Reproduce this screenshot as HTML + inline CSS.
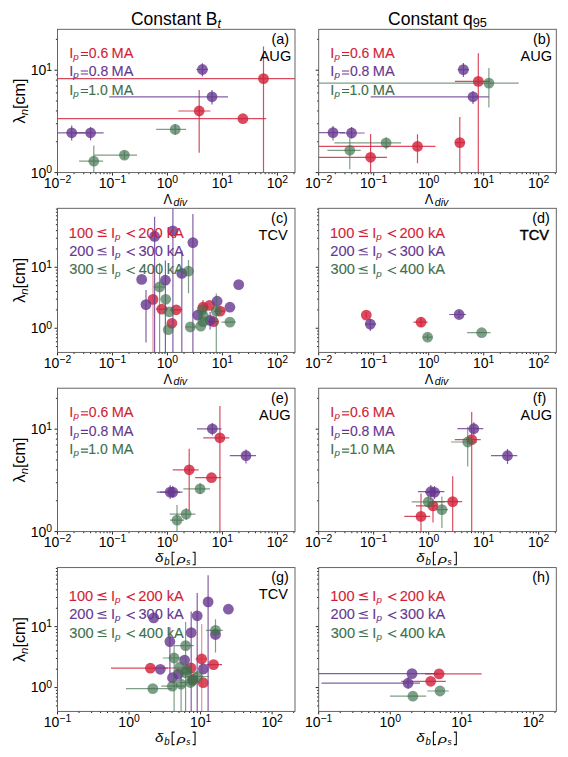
<!DOCTYPE html><html><head><meta charset="utf-8"><style>html,body{margin:0;padding:0;background:#fff;overflow:hidden}svg{display:block;font-family:"Liberation Sans",sans-serif}</style></head><body><svg width="568" height="757" viewBox="0 0 568 757">
<rect width="568" height="757" fill="#fff"/>
<clipPath id="cp00"><rect x="57.5" y="29.3" width="237.50" height="143.30"/></clipPath><g clip-path="url(#cp00)">
<circle cx="263.50" cy="78.60" r="5.4" fill="#d11e37" fill-opacity="0.8"/>
<path d="M57.50 78.60H295.00 M263.50 46.60V172.60" stroke="#d11e37" stroke-width="1.2" stroke-opacity="0.8" fill="none"/>
<circle cx="199.20" cy="111.00" r="5.4" fill="#d11e37" fill-opacity="0.8"/>
<path d="M178.30 111.00H210.40 M199.20 89.90V152.70" stroke="#d11e37" stroke-width="1.2" stroke-opacity="0.8" fill="none"/>
<circle cx="242.90" cy="118.70" r="5.4" fill="#d11e37" fill-opacity="0.8"/>
<path d="M57.50 118.70H266.20" stroke="#d11e37" stroke-width="1.2" stroke-opacity="0.8" fill="none"/>
<circle cx="71.70" cy="132.80" r="5.4" fill="#663790" fill-opacity="0.8"/>
<path d="M57.50 132.80H85.00 M71.70 125.60V140.60" stroke="#663790" stroke-width="1.2" stroke-opacity="0.8" fill="none"/>
<circle cx="90.60" cy="132.80" r="5.4" fill="#663790" fill-opacity="0.8"/>
<path d="M75.00 132.80H103.60 M90.60 127.10V140.40" stroke="#663790" stroke-width="1.2" stroke-opacity="0.8" fill="none"/>
<circle cx="202.40" cy="69.50" r="5.4" fill="#663790" fill-opacity="0.8"/>
<path d="M196.40 69.50H208.00 M202.40 63.20V76.40" stroke="#663790" stroke-width="1.2" stroke-opacity="0.8" fill="none"/>
<circle cx="212.00" cy="96.80" r="5.4" fill="#663790" fill-opacity="0.8"/>
<path d="M109.20 96.80H228.00 M212.00 90.10V104.40" stroke="#663790" stroke-width="1.2" stroke-opacity="0.8" fill="none"/>
<circle cx="93.80" cy="161.20" r="5.4" fill="#3e704c" fill-opacity="0.67"/>
<path d="M79.10 161.20H103.10 M93.80 145.60V172.60" stroke="#3e704c" stroke-width="1.2" stroke-opacity="0.67" fill="none"/>
<circle cx="124.40" cy="155.10" r="5.4" fill="#3e704c" fill-opacity="0.67"/>
<path d="M94.10 155.10H137.00 M124.40 151.00V159.00" stroke="#3e704c" stroke-width="1.2" stroke-opacity="0.67" fill="none"/>
<circle cx="175.20" cy="129.40" r="5.4" fill="#3e704c" fill-opacity="0.67"/>
<path d="M156.20 129.40H186.00 M175.20 124.00V135.00" stroke="#3e704c" stroke-width="1.2" stroke-opacity="0.67" fill="none"/>
</g>
<path d="M57.50 172.60v3.0 M74.05 172.60v1.6 M83.73 172.60v1.6 M90.60 172.60v1.6 M95.93 172.60v1.6 M100.28 172.60v1.6 M103.96 172.60v1.6 M107.15 172.60v1.6 M109.96 172.60v1.6 M112.48 172.60v3.0 M129.03 172.60v1.6 M138.71 172.60v1.6 M145.58 172.60v1.6 M150.90 172.60v1.6 M155.26 172.60v1.6 M158.94 172.60v1.6 M162.13 172.60v1.6 M164.94 172.60v1.6 M167.45 172.60v3.0 M184.00 172.60v1.6 M193.68 172.60v1.6 M200.55 172.60v1.6 M205.88 172.60v1.6 M210.23 172.60v1.6 M213.91 172.60v1.6 M217.10 172.60v1.6 M219.91 172.60v1.6 M222.43 172.60v3.0 M238.98 172.60v1.6 M248.66 172.60v1.6 M255.53 172.60v1.6 M260.86 172.60v1.6 M265.21 172.60v1.6 M268.89 172.60v1.6 M272.08 172.60v1.6 M274.89 172.60v1.6 M277.41 172.60v3.0 M293.96 172.60v1.6 M57.50 172.60h-3.0 M57.50 141.77h-1.6 M57.50 123.74h-1.6 M57.50 110.95h-1.6 M57.50 101.03h-1.6 M57.50 92.92h-1.6 M57.50 86.06h-1.6 M57.50 80.12h-1.6 M57.50 74.89h-1.6 M57.50 70.20h-3.0 M57.50 39.37h-1.6" stroke="#111" stroke-width="0.9" fill="none"/>
<rect x="57.5" y="29.3" width="237.50" height="143.30" fill="none" stroke="#555" stroke-width="0.9"/>
<text x="43.79" y="188.00" font-size="14.0">10</text>
<text x="59.36" y="183.40" font-size="10.4">−2</text>
<text x="98.76" y="188.00" font-size="14.0">10</text>
<text x="114.33" y="183.40" font-size="10.4">−1</text>
<text x="156.78" y="188.00" font-size="14.0">10</text>
<text x="172.35" y="183.40" font-size="10.4">0</text>
<text x="211.75" y="188.00" font-size="14.0">10</text>
<text x="227.32" y="183.40" font-size="10.4">1</text>
<text x="266.73" y="188.00" font-size="14.0">10</text>
<text x="282.30" y="183.40" font-size="10.4">2</text>
<text x="30.63" y="177.50" font-size="14.0">10</text>
<text x="46.21" y="172.90" font-size="10.4">0</text>
<text x="30.63" y="75.10" font-size="14.0">10</text>
<text x="46.21" y="70.50" font-size="10.4">1</text>
<clipPath id="cp01"><rect x="318.7" y="29.3" width="237.60" height="143.30"/></clipPath><g clip-path="url(#cp01)">
<circle cx="478.30" cy="81.40" r="5.4" fill="#d11e37" fill-opacity="0.8"/>
<path d="M454.90 81.40H490.00 M478.30 53.20V172.60" stroke="#d11e37" stroke-width="1.2" stroke-opacity="0.8" fill="none"/>
<circle cx="417.50" cy="146.40" r="5.4" fill="#d11e37" fill-opacity="0.8"/>
<path d="M318.70 146.40H435.50 M417.50 134.30V163.20" stroke="#d11e37" stroke-width="1.2" stroke-opacity="0.8" fill="none"/>
<circle cx="459.80" cy="142.60" r="5.4" fill="#d11e37" fill-opacity="0.8"/>
<path d="M455.00 142.60H465.00 M459.80 117.00V172.60" stroke="#d11e37" stroke-width="1.2" stroke-opacity="0.8" fill="none"/>
<circle cx="370.60" cy="157.30" r="5.4" fill="#d11e37" fill-opacity="0.8"/>
<path d="M318.70 157.30H387.00 M370.60 134.10V172.60" stroke="#d11e37" stroke-width="1.2" stroke-opacity="0.8" fill="none"/>
<circle cx="333.00" cy="132.60" r="5.4" fill="#663790" fill-opacity="0.8"/>
<path d="M318.70 132.60H345.00 M333.00 125.90V140.40" stroke="#663790" stroke-width="1.2" stroke-opacity="0.8" fill="none"/>
<circle cx="351.60" cy="133.00" r="5.4" fill="#663790" fill-opacity="0.8"/>
<path d="M340.00 133.00H364.60 M351.60 127.00V138.30" stroke="#663790" stroke-width="1.2" stroke-opacity="0.8" fill="none"/>
<circle cx="463.40" cy="69.60" r="5.4" fill="#663790" fill-opacity="0.8"/>
<path d="M457.70 69.60H469.00 M463.40 62.90V77.00" stroke="#663790" stroke-width="1.2" stroke-opacity="0.8" fill="none"/>
<circle cx="473.00" cy="96.80" r="5.4" fill="#663790" fill-opacity="0.8"/>
<path d="M370.70 96.80H488.90 M473.00 91.00V104.00" stroke="#663790" stroke-width="1.2" stroke-opacity="0.8" fill="none"/>
<circle cx="349.80" cy="150.30" r="5.4" fill="#3e704c" fill-opacity="0.67"/>
<path d="M327.40 150.30H360.80 M349.80 137.60V169.30" stroke="#3e704c" stroke-width="1.2" stroke-opacity="0.67" fill="none"/>
<circle cx="386.10" cy="142.80" r="5.4" fill="#3e704c" fill-opacity="0.67"/>
<path d="M334.40 142.80H401.10 M386.10 137.50V149.60" stroke="#3e704c" stroke-width="1.2" stroke-opacity="0.67" fill="none"/>
<circle cx="488.90" cy="83.10" r="5.4" fill="#3e704c" fill-opacity="0.67"/>
<path d="M318.70 83.10H518.70 M488.90 68.10V107.50" stroke="#3e704c" stroke-width="1.2" stroke-opacity="0.67" fill="none"/>
</g>
<path d="M318.70 172.60v3.0 M335.26 172.60v1.6 M344.94 172.60v1.6 M351.81 172.60v1.6 M357.14 172.60v1.6 M361.50 172.60v1.6 M365.18 172.60v1.6 M368.37 172.60v1.6 M371.18 172.60v1.6 M373.70 172.60v3.0 M390.26 172.60v1.6 M399.94 172.60v1.6 M406.81 172.60v1.6 M412.14 172.60v1.6 M416.50 172.60v1.6 M420.18 172.60v1.6 M423.37 172.60v1.6 M426.18 172.60v1.6 M428.70 172.60v3.0 M445.26 172.60v1.6 M454.94 172.60v1.6 M461.81 172.60v1.6 M467.14 172.60v1.6 M471.50 172.60v1.6 M475.18 172.60v1.6 M478.37 172.60v1.6 M481.18 172.60v1.6 M483.70 172.60v3.0 M500.26 172.60v1.6 M509.94 172.60v1.6 M516.81 172.60v1.6 M522.14 172.60v1.6 M526.50 172.60v1.6 M530.18 172.60v1.6 M533.37 172.60v1.6 M536.18 172.60v1.6 M538.70 172.60v3.0 M555.26 172.60v1.6 M318.70 172.60h-3.0 M318.70 141.77h-1.6 M318.70 123.74h-1.6 M318.70 110.95h-1.6 M318.70 101.03h-1.6 M318.70 92.92h-1.6 M318.70 86.06h-1.6 M318.70 80.12h-1.6 M318.70 74.89h-1.6 M318.70 70.20h-3.0 M318.70 39.37h-1.6" stroke="#111" stroke-width="0.9" fill="none"/>
<rect x="318.7" y="29.3" width="237.60" height="143.30" fill="none" stroke="#555" stroke-width="0.9"/>
<text x="304.99" y="188.00" font-size="14.0">10</text>
<text x="320.56" y="183.40" font-size="10.4">−2</text>
<text x="359.99" y="188.00" font-size="14.0">10</text>
<text x="375.56" y="183.40" font-size="10.4">−1</text>
<text x="418.02" y="188.00" font-size="14.0">10</text>
<text x="433.59" y="183.40" font-size="10.4">0</text>
<text x="473.02" y="188.00" font-size="14.0">10</text>
<text x="488.59" y="183.40" font-size="10.4">1</text>
<text x="528.02" y="188.00" font-size="14.0">10</text>
<text x="543.59" y="183.40" font-size="10.4">2</text>
<clipPath id="cp10"><rect x="57.5" y="208.3" width="237.50" height="144.10"/></clipPath><g clip-path="url(#cp10)">
<circle cx="153.00" cy="299.40" r="5.4" fill="#d11e37" fill-opacity="0.8"/>
<path d="M153.00 265.40V352.40" stroke="#d11e37" stroke-width="1.2" stroke-opacity="0.5" fill="none"/>
<circle cx="161.80" cy="309.10" r="5.4" fill="#d11e37" fill-opacity="0.8"/>
<path d="M156.00 309.10H168.00" stroke="#d11e37" stroke-width="1.2" stroke-opacity="0.8" fill="none"/>
<circle cx="176.20" cy="309.80" r="5.4" fill="#d11e37" fill-opacity="0.8"/>
<path d="M170.00 309.80H182.00" stroke="#d11e37" stroke-width="1.2" stroke-opacity="0.8" fill="none"/>
<circle cx="171.90" cy="323.30" r="5.4" fill="#d11e37" fill-opacity="0.8"/>
<circle cx="209.60" cy="305.40" r="5.4" fill="#d11e37" fill-opacity="0.8"/>
<circle cx="203.00" cy="307.20" r="5.4" fill="#d11e37" fill-opacity="0.8"/>
<path d="M203.00 300.00V312.00" stroke="#d11e37" stroke-width="1.2" stroke-opacity="0.8" fill="none"/>
<circle cx="220.20" cy="311.10" r="5.4" fill="#d11e37" fill-opacity="0.8"/>
<path d="M214.00 311.10H225.50" stroke="#d11e37" stroke-width="1.2" stroke-opacity="0.8" fill="none"/>
<circle cx="213.60" cy="321.70" r="5.4" fill="#d11e37" fill-opacity="0.8"/>
<path d="M208.00 321.70H218.90" stroke="#d11e37" stroke-width="1.2" stroke-opacity="0.8" fill="none"/>
<circle cx="154.60" cy="236.40" r="5.4" fill="#663790" fill-opacity="0.8"/>
<path d="M154.60 216.70V352.40" stroke="#663790" stroke-width="1.2" stroke-opacity="0.8" fill="none"/>
<circle cx="172.90" cy="230.90" r="5.4" fill="#663790" fill-opacity="0.8"/>
<path d="M172.90 208.30V352.40" stroke="#663790" stroke-width="1.2" stroke-opacity="0.8" fill="none"/>
<circle cx="192.90" cy="242.60" r="5.4" fill="#663790" fill-opacity="0.8"/>
<path d="M192.90 213.90V352.40" stroke="#663790" stroke-width="1.2" stroke-opacity="0.8" fill="none"/>
<circle cx="141.70" cy="279.40" r="5.4" fill="#663790" fill-opacity="0.8"/>
<circle cx="165.40" cy="280.20" r="5.4" fill="#663790" fill-opacity="0.8"/>
<path d="M165.40 260.50V352.40" stroke="#663790" stroke-width="1.2" stroke-opacity="0.8" fill="none"/>
<circle cx="181.80" cy="273.40" r="5.4" fill="#663790" fill-opacity="0.8"/>
<path d="M181.80 250.60V352.40" stroke="#663790" stroke-width="1.2" stroke-opacity="0.8" fill="none"/>
<circle cx="146.00" cy="304.60" r="5.4" fill="#663790" fill-opacity="0.8"/>
<path d="M146.00 290.00V342.40" stroke="#663790" stroke-width="1.2" stroke-opacity="0.8" fill="none"/>
<circle cx="238.70" cy="284.60" r="5.4" fill="#663790" fill-opacity="0.8"/>
<circle cx="229.90" cy="307.20" r="5.4" fill="#663790" fill-opacity="0.8"/>
<circle cx="217.10" cy="301.20" r="5.4" fill="#663790" fill-opacity="0.8"/>
<circle cx="197.80" cy="315.10" r="5.4" fill="#663790" fill-opacity="0.8"/>
<circle cx="210.10" cy="320.40" r="5.4" fill="#663790" fill-opacity="0.8"/>
<path d="M210.10 312.00V329.60" stroke="#663790" stroke-width="1.2" stroke-opacity="0.8" fill="none"/>
<circle cx="188.50" cy="271.20" r="5.4" fill="#3e704c" fill-opacity="0.67"/>
<path d="M188.50 259.90V293.30" stroke="#3e704c" stroke-width="1.2" stroke-opacity="0.67" fill="none"/>
<circle cx="159.60" cy="287.00" r="5.4" fill="#3e704c" fill-opacity="0.67"/>
<path d="M153.40 287.00H165.70 M159.60 263.00V352.40" stroke="#3e704c" stroke-width="1.2" stroke-opacity="0.67" fill="none"/>
<circle cx="165.70" cy="299.30" r="5.4" fill="#3e704c" fill-opacity="0.67"/>
<circle cx="169.20" cy="311.80" r="5.4" fill="#3e704c" fill-opacity="0.67"/>
<circle cx="168.20" cy="329.70" r="5.4" fill="#3e704c" fill-opacity="0.67"/>
<circle cx="190.30" cy="327.00" r="5.4" fill="#3e704c" fill-opacity="0.67"/>
<path d="M185.90 327.00H196.40" stroke="#3e704c" stroke-width="1.2" stroke-opacity="0.67" fill="none"/>
<circle cx="216.30" cy="311.10" r="5.4" fill="#3e704c" fill-opacity="0.67"/>
<path d="M216.30 293.50V352.40" stroke="#3e704c" stroke-width="1.2" stroke-opacity="0.67" fill="none"/>
<circle cx="202.20" cy="309.80" r="5.4" fill="#3e704c" fill-opacity="0.67"/>
<circle cx="203.50" cy="316.40" r="5.4" fill="#3e704c" fill-opacity="0.67"/>
<circle cx="203.00" cy="321.70" r="5.4" fill="#3e704c" fill-opacity="0.67"/>
<circle cx="200.80" cy="326.10" r="5.4" fill="#3e704c" fill-opacity="0.67"/>
<circle cx="229.90" cy="322.10" r="5.4" fill="#3e704c" fill-opacity="0.67"/>
<path d="M221.50 322.10H235.60" stroke="#3e704c" stroke-width="1.2" stroke-opacity="0.67" fill="none"/>
</g>
<path d="M57.50 352.40v3.0 M74.05 352.40v1.6 M83.73 352.40v1.6 M90.60 352.40v1.6 M95.93 352.40v1.6 M100.28 352.40v1.6 M103.96 352.40v1.6 M107.15 352.40v1.6 M109.96 352.40v1.6 M112.48 352.40v3.0 M129.03 352.40v1.6 M138.71 352.40v1.6 M145.58 352.40v1.6 M150.90 352.40v1.6 M155.26 352.40v1.6 M158.94 352.40v1.6 M162.13 352.40v1.6 M164.94 352.40v1.6 M167.45 352.40v3.0 M184.00 352.40v1.6 M193.68 352.40v1.6 M200.55 352.40v1.6 M205.88 352.40v1.6 M210.23 352.40v1.6 M213.91 352.40v1.6 M217.10 352.40v1.6 M219.91 352.40v1.6 M222.43 352.40v3.0 M238.98 352.40v1.6 M248.66 352.40v1.6 M255.53 352.40v1.6 M260.86 352.40v1.6 M265.21 352.40v1.6 M268.89 352.40v1.6 M272.08 352.40v1.6 M274.89 352.40v1.6 M277.41 352.40v3.0 M293.96 352.40v1.6 M57.50 346.60h-1.6 M57.50 341.77h-1.6 M57.50 337.69h-1.6 M57.50 334.16h-1.6 M57.50 331.04h-1.6 M57.50 328.25h-3.0 M57.50 309.90h-1.6 M57.50 299.17h-1.6 M57.50 291.55h-1.6 M57.50 285.65h-1.6 M57.50 280.82h-1.6 M57.50 276.74h-1.6 M57.50 273.21h-1.6 M57.50 270.09h-1.6 M57.50 267.30h-3.0 M57.50 248.95h-1.6 M57.50 238.22h-1.6 M57.50 230.60h-1.6 M57.50 224.70h-1.6 M57.50 219.87h-1.6 M57.50 215.79h-1.6 M57.50 212.26h-1.6 M57.50 209.14h-1.6" stroke="#111" stroke-width="0.9" fill="none"/>
<rect x="57.5" y="208.3" width="237.50" height="144.10" fill="none" stroke="#555" stroke-width="0.9"/>
<text x="43.79" y="367.80" font-size="14.0">10</text>
<text x="59.36" y="363.20" font-size="10.4">−2</text>
<text x="98.76" y="367.80" font-size="14.0">10</text>
<text x="114.33" y="363.20" font-size="10.4">−1</text>
<text x="156.78" y="367.80" font-size="14.0">10</text>
<text x="172.35" y="363.20" font-size="10.4">0</text>
<text x="211.75" y="367.80" font-size="14.0">10</text>
<text x="227.32" y="363.20" font-size="10.4">1</text>
<text x="266.73" y="367.80" font-size="14.0">10</text>
<text x="282.30" y="363.20" font-size="10.4">2</text>
<text x="30.63" y="333.15" font-size="14.0">10</text>
<text x="46.21" y="328.55" font-size="10.4">0</text>
<text x="30.63" y="272.20" font-size="14.0">10</text>
<text x="46.21" y="267.60" font-size="10.4">1</text>
<clipPath id="cp11"><rect x="318.7" y="208.3" width="237.60" height="144.10"/></clipPath><g clip-path="url(#cp11)">
<circle cx="366.30" cy="315.10" r="5.4" fill="#d11e37" fill-opacity="0.8"/>
<path d="M366.30 312.00V318.00" stroke="#d11e37" stroke-width="1.2" stroke-opacity="0.8" fill="none"/>
<circle cx="421.00" cy="322.20" r="5.4" fill="#d11e37" fill-opacity="0.8"/>
<path d="M413.40 322.20H427.60 M421.00 317.40V326.90" stroke="#d11e37" stroke-width="1.2" stroke-opacity="0.8" fill="none"/>
<circle cx="370.30" cy="324.10" r="5.4" fill="#663790" fill-opacity="0.8"/>
<path d="M365.00 324.10H376.10 M370.30 319.00V330.90" stroke="#663790" stroke-width="1.2" stroke-opacity="0.8" fill="none"/>
<circle cx="459.10" cy="314.50" r="5.4" fill="#663790" fill-opacity="0.8"/>
<path d="M449.20 314.50H465.90 M459.10 311.00V318.00" stroke="#663790" stroke-width="1.2" stroke-opacity="0.8" fill="none"/>
<circle cx="427.60" cy="337.20" r="5.4" fill="#3e704c" fill-opacity="0.67"/>
<path d="M422.90 337.20H432.40 M427.60 334.00V340.00" stroke="#3e704c" stroke-width="1.2" stroke-opacity="0.67" fill="none"/>
<circle cx="481.70" cy="332.70" r="5.4" fill="#3e704c" fill-opacity="0.67"/>
<path d="M467.10 332.70H490.50" stroke="#3e704c" stroke-width="1.2" stroke-opacity="0.67" fill="none"/>
</g>
<path d="M318.70 352.40v3.0 M335.26 352.40v1.6 M344.94 352.40v1.6 M351.81 352.40v1.6 M357.14 352.40v1.6 M361.50 352.40v1.6 M365.18 352.40v1.6 M368.37 352.40v1.6 M371.18 352.40v1.6 M373.70 352.40v3.0 M390.26 352.40v1.6 M399.94 352.40v1.6 M406.81 352.40v1.6 M412.14 352.40v1.6 M416.50 352.40v1.6 M420.18 352.40v1.6 M423.37 352.40v1.6 M426.18 352.40v1.6 M428.70 352.40v3.0 M445.26 352.40v1.6 M454.94 352.40v1.6 M461.81 352.40v1.6 M467.14 352.40v1.6 M471.50 352.40v1.6 M475.18 352.40v1.6 M478.37 352.40v1.6 M481.18 352.40v1.6 M483.70 352.40v3.0 M500.26 352.40v1.6 M509.94 352.40v1.6 M516.81 352.40v1.6 M522.14 352.40v1.6 M526.50 352.40v1.6 M530.18 352.40v1.6 M533.37 352.40v1.6 M536.18 352.40v1.6 M538.70 352.40v3.0 M555.26 352.40v1.6 M318.70 346.60h-1.6 M318.70 341.77h-1.6 M318.70 337.69h-1.6 M318.70 334.16h-1.6 M318.70 331.04h-1.6 M318.70 328.25h-3.0 M318.70 309.90h-1.6 M318.70 299.17h-1.6 M318.70 291.55h-1.6 M318.70 285.65h-1.6 M318.70 280.82h-1.6 M318.70 276.74h-1.6 M318.70 273.21h-1.6 M318.70 270.09h-1.6 M318.70 267.30h-3.0 M318.70 248.95h-1.6 M318.70 238.22h-1.6 M318.70 230.60h-1.6 M318.70 224.70h-1.6 M318.70 219.87h-1.6 M318.70 215.79h-1.6 M318.70 212.26h-1.6 M318.70 209.14h-1.6" stroke="#111" stroke-width="0.9" fill="none"/>
<rect x="318.7" y="208.3" width="237.60" height="144.10" fill="none" stroke="#555" stroke-width="0.9"/>
<text x="304.99" y="367.80" font-size="14.0">10</text>
<text x="320.56" y="363.20" font-size="10.4">−2</text>
<text x="359.99" y="367.80" font-size="14.0">10</text>
<text x="375.56" y="363.20" font-size="10.4">−1</text>
<text x="418.02" y="367.80" font-size="14.0">10</text>
<text x="433.59" y="363.20" font-size="10.4">0</text>
<text x="473.02" y="367.80" font-size="14.0">10</text>
<text x="488.59" y="363.20" font-size="10.4">1</text>
<text x="528.02" y="367.80" font-size="14.0">10</text>
<text x="543.59" y="363.20" font-size="10.4">2</text>
<clipPath id="cp20"><rect x="57.5" y="388.2" width="237.50" height="143.40"/></clipPath><g clip-path="url(#cp20)">
<circle cx="219.90" cy="437.80" r="5.4" fill="#d11e37" fill-opacity="0.8"/>
<path d="M203.20 437.80H229.30 M219.90 405.90V531.60" stroke="#d11e37" stroke-width="1.2" stroke-opacity="0.8" fill="none"/>
<circle cx="189.20" cy="469.80" r="5.4" fill="#d11e37" fill-opacity="0.8"/>
<path d="M172.80 469.80H198.60 M189.20 448.80V511.10" stroke="#d11e37" stroke-width="1.2" stroke-opacity="0.8" fill="none"/>
<circle cx="211.50" cy="477.70" r="5.4" fill="#d11e37" fill-opacity="0.8"/>
<path d="M195.20 477.70H221.30" stroke="#d11e37" stroke-width="1.2" stroke-opacity="0.8" fill="none"/>
<circle cx="212.30" cy="428.80" r="5.4" fill="#663790" fill-opacity="0.8"/>
<path d="M197.00 428.80H221.50 M212.30 423.00V435.20" stroke="#663790" stroke-width="1.2" stroke-opacity="0.8" fill="none"/>
<circle cx="246.00" cy="455.70" r="5.4" fill="#663790" fill-opacity="0.8"/>
<path d="M229.80 455.70H256.00 M246.00 449.40V463.60" stroke="#663790" stroke-width="1.2" stroke-opacity="0.8" fill="none"/>
<circle cx="170.20" cy="492.10" r="5.4" fill="#663790" fill-opacity="0.8"/>
<path d="M156.80 492.10H182.60 M170.20 485.30V498.90" stroke="#663790" stroke-width="1.2" stroke-opacity="0.8" fill="none"/>
<circle cx="172.80" cy="492.10" r="5.4" fill="#663790" fill-opacity="0.8"/>
<path d="M160.00 492.10H180.00 M172.80 486.00V498.00" stroke="#663790" stroke-width="1.2" stroke-opacity="0.8" fill="none"/>
<circle cx="200.10" cy="488.80" r="5.4" fill="#3e704c" fill-opacity="0.67"/>
<path d="M183.40 488.80H210.00 M200.10 483.00V494.00" stroke="#3e704c" stroke-width="1.2" stroke-opacity="0.67" fill="none"/>
<circle cx="186.10" cy="514.10" r="5.4" fill="#3e704c" fill-opacity="0.67"/>
<path d="M169.70 514.10H195.50 M186.10 508.00V520.00" stroke="#3e704c" stroke-width="1.2" stroke-opacity="0.67" fill="none"/>
<circle cx="177.00" cy="520.20" r="5.4" fill="#3e704c" fill-opacity="0.67"/>
<path d="M170.00 520.20H184.00 M177.00 505.00V531.60" stroke="#3e704c" stroke-width="1.2" stroke-opacity="0.67" fill="none"/>
</g>
<path d="M57.50 531.60v3.0 M74.05 531.60v1.6 M83.73 531.60v1.6 M90.60 531.60v1.6 M95.93 531.60v1.6 M100.28 531.60v1.6 M103.96 531.60v1.6 M107.15 531.60v1.6 M109.96 531.60v1.6 M112.48 531.60v3.0 M129.03 531.60v1.6 M138.71 531.60v1.6 M145.58 531.60v1.6 M150.90 531.60v1.6 M155.26 531.60v1.6 M158.94 531.60v1.6 M162.13 531.60v1.6 M164.94 531.60v1.6 M167.45 531.60v3.0 M184.00 531.60v1.6 M193.68 531.60v1.6 M200.55 531.60v1.6 M205.88 531.60v1.6 M210.23 531.60v1.6 M213.91 531.60v1.6 M217.10 531.60v1.6 M219.91 531.60v1.6 M222.43 531.60v3.0 M238.98 531.60v1.6 M248.66 531.60v1.6 M255.53 531.60v1.6 M260.86 531.60v1.6 M265.21 531.60v1.6 M268.89 531.60v1.6 M272.08 531.60v1.6 M274.89 531.60v1.6 M277.41 531.60v3.0 M293.96 531.60v1.6 M57.50 531.60h-3.0 M57.50 500.77h-1.6 M57.50 482.74h-1.6 M57.50 469.95h-1.6 M57.50 460.03h-1.6 M57.50 451.92h-1.6 M57.50 445.06h-1.6 M57.50 439.12h-1.6 M57.50 433.89h-1.6 M57.50 429.20h-3.0 M57.50 398.37h-1.6" stroke="#111" stroke-width="0.9" fill="none"/>
<rect x="57.5" y="388.2" width="237.50" height="143.40" fill="none" stroke="#555" stroke-width="0.9"/>
<text x="43.79" y="547.00" font-size="14.0">10</text>
<text x="59.36" y="542.40" font-size="10.4">−2</text>
<text x="98.76" y="547.00" font-size="14.0">10</text>
<text x="114.33" y="542.40" font-size="10.4">−1</text>
<text x="156.78" y="547.00" font-size="14.0">10</text>
<text x="172.35" y="542.40" font-size="10.4">0</text>
<text x="211.75" y="547.00" font-size="14.0">10</text>
<text x="227.32" y="542.40" font-size="10.4">1</text>
<text x="266.73" y="547.00" font-size="14.0">10</text>
<text x="282.30" y="542.40" font-size="10.4">2</text>
<text x="30.63" y="536.50" font-size="14.0">10</text>
<text x="46.21" y="531.90" font-size="10.4">0</text>
<text x="30.63" y="434.10" font-size="14.0">10</text>
<text x="46.21" y="429.50" font-size="10.4">1</text>
<clipPath id="cp21"><rect x="318.7" y="388.2" width="237.60" height="143.40"/></clipPath><g clip-path="url(#cp21)">
<circle cx="471.70" cy="439.60" r="5.4" fill="#d11e37" fill-opacity="0.8"/>
<path d="M454.80 439.60H480.70 M471.70 412.10V531.60" stroke="#d11e37" stroke-width="1.2" stroke-opacity="0.8" fill="none"/>
<circle cx="433.00" cy="505.90" r="5.4" fill="#d11e37" fill-opacity="0.8"/>
<path d="M416.00 505.90H437.00 M433.00 498.50V522.50" stroke="#d11e37" stroke-width="1.2" stroke-opacity="0.8" fill="none"/>
<circle cx="452.70" cy="501.60" r="5.4" fill="#d11e37" fill-opacity="0.8"/>
<path d="M433.90 501.60H462.20 M452.70 476.30V531.60" stroke="#d11e37" stroke-width="1.2" stroke-opacity="0.8" fill="none"/>
<circle cx="421.00" cy="516.40" r="5.4" fill="#d11e37" fill-opacity="0.8"/>
<path d="M404.30 516.40H430.20 M421.00 493.60V531.60" stroke="#d11e37" stroke-width="1.2" stroke-opacity="0.8" fill="none"/>
<circle cx="473.80" cy="428.70" r="5.4" fill="#663790" fill-opacity="0.8"/>
<path d="M457.40 428.70H483.30 M473.80 422.20V434.90" stroke="#663790" stroke-width="1.2" stroke-opacity="0.8" fill="none"/>
<circle cx="430.80" cy="491.70" r="5.4" fill="#663790" fill-opacity="0.8"/>
<path d="M417.90 491.70H444.40 M430.80 484.90V499.70" stroke="#663790" stroke-width="1.2" stroke-opacity="0.8" fill="none"/>
<circle cx="434.50" cy="492.30" r="5.4" fill="#663790" fill-opacity="0.8"/>
<path d="M425.00 492.30H440.00 M434.50 486.00V499.00" stroke="#663790" stroke-width="1.2" stroke-opacity="0.8" fill="none"/>
<circle cx="507.50" cy="455.70" r="5.4" fill="#663790" fill-opacity="0.8"/>
<path d="M491.00 455.70H517.30 M507.50 449.10V463.90" stroke="#663790" stroke-width="1.2" stroke-opacity="0.8" fill="none"/>
<circle cx="467.70" cy="442.00" r="5.4" fill="#3e704c" fill-opacity="0.67"/>
<path d="M451.10 442.00H477.00 M467.70 426.90V466.50" stroke="#3e704c" stroke-width="1.2" stroke-opacity="0.67" fill="none"/>
<circle cx="428.30" cy="501.90" r="5.4" fill="#3e704c" fill-opacity="0.67"/>
<path d="M411.70 501.90H445.00 M428.30 495.00V508.00" stroke="#3e704c" stroke-width="1.2" stroke-opacity="0.67" fill="none"/>
<circle cx="441.90" cy="509.60" r="5.4" fill="#3e704c" fill-opacity="0.67"/>
<path d="M436.00 509.60H448.00 M441.90 496.60V528.10" stroke="#3e704c" stroke-width="1.2" stroke-opacity="0.67" fill="none"/>
</g>
<path d="M318.70 531.60v3.0 M335.26 531.60v1.6 M344.94 531.60v1.6 M351.81 531.60v1.6 M357.14 531.60v1.6 M361.50 531.60v1.6 M365.18 531.60v1.6 M368.37 531.60v1.6 M371.18 531.60v1.6 M373.70 531.60v3.0 M390.26 531.60v1.6 M399.94 531.60v1.6 M406.81 531.60v1.6 M412.14 531.60v1.6 M416.50 531.60v1.6 M420.18 531.60v1.6 M423.37 531.60v1.6 M426.18 531.60v1.6 M428.70 531.60v3.0 M445.26 531.60v1.6 M454.94 531.60v1.6 M461.81 531.60v1.6 M467.14 531.60v1.6 M471.50 531.60v1.6 M475.18 531.60v1.6 M478.37 531.60v1.6 M481.18 531.60v1.6 M483.70 531.60v3.0 M500.26 531.60v1.6 M509.94 531.60v1.6 M516.81 531.60v1.6 M522.14 531.60v1.6 M526.50 531.60v1.6 M530.18 531.60v1.6 M533.37 531.60v1.6 M536.18 531.60v1.6 M538.70 531.60v3.0 M555.26 531.60v1.6 M318.70 531.60h-3.0 M318.70 500.77h-1.6 M318.70 482.74h-1.6 M318.70 469.95h-1.6 M318.70 460.03h-1.6 M318.70 451.92h-1.6 M318.70 445.06h-1.6 M318.70 439.12h-1.6 M318.70 433.89h-1.6 M318.70 429.20h-3.0 M318.70 398.37h-1.6" stroke="#111" stroke-width="0.9" fill="none"/>
<rect x="318.7" y="388.2" width="237.60" height="143.40" fill="none" stroke="#555" stroke-width="0.9"/>
<text x="304.99" y="547.00" font-size="14.0">10</text>
<text x="320.56" y="542.40" font-size="10.4">−2</text>
<text x="359.99" y="547.00" font-size="14.0">10</text>
<text x="375.56" y="542.40" font-size="10.4">−1</text>
<text x="418.02" y="547.00" font-size="14.0">10</text>
<text x="433.59" y="542.40" font-size="10.4">0</text>
<text x="473.02" y="547.00" font-size="14.0">10</text>
<text x="488.59" y="542.40" font-size="10.4">1</text>
<text x="528.02" y="547.00" font-size="14.0">10</text>
<text x="543.59" y="542.40" font-size="10.4">2</text>
<clipPath id="cp30"><rect x="57.5" y="567.6" width="237.50" height="143.80"/></clipPath><g clip-path="url(#cp30)">
<circle cx="201.70" cy="659.00" r="5.4" fill="#d11e37" fill-opacity="0.8"/>
<path d="M195.20 659.00H207.20 M201.70 624.00V711.40" stroke="#d11e37" stroke-width="1.2" stroke-opacity="0.5" fill="none"/>
<circle cx="213.50" cy="664.60" r="5.4" fill="#d11e37" fill-opacity="0.8"/>
<path d="M206.50 664.60H222.00" stroke="#d11e37" stroke-width="1.2" stroke-opacity="0.8" fill="none"/>
<circle cx="150.40" cy="668.20" r="5.4" fill="#d11e37" fill-opacity="0.8"/>
<path d="M111.00 668.20H168.00" stroke="#d11e37" stroke-width="1.2" stroke-opacity="0.8" fill="none"/>
<circle cx="191.00" cy="668.00" r="5.4" fill="#d11e37" fill-opacity="0.8"/>
<path d="M163.00 668.00H191.00" stroke="#d11e37" stroke-width="1.2" stroke-opacity="0.8" fill="none"/>
<circle cx="203.20" cy="682.70" r="5.4" fill="#d11e37" fill-opacity="0.8"/>
<circle cx="193.00" cy="679.50" r="5.4" fill="#d11e37" fill-opacity="0.8"/>
<circle cx="153.70" cy="617.90" r="5.4" fill="#663790" fill-opacity="0.8"/>
<circle cx="208.10" cy="601.90" r="5.4" fill="#663790" fill-opacity="0.8"/>
<path d="M208.10 575.20V711.40" stroke="#663790" stroke-width="1.2" stroke-opacity="0.8" fill="none"/>
<circle cx="228.40" cy="609.20" r="5.4" fill="#663790" fill-opacity="0.8"/>
<circle cx="197.20" cy="615.80" r="5.4" fill="#663790" fill-opacity="0.8"/>
<path d="M197.20 592.90V711.40" stroke="#663790" stroke-width="1.2" stroke-opacity="0.8" fill="none"/>
<circle cx="191.20" cy="632.60" r="5.4" fill="#663790" fill-opacity="0.8"/>
<path d="M191.20 611.40V711.40" stroke="#663790" stroke-width="1.2" stroke-opacity="0.8" fill="none"/>
<circle cx="169.90" cy="641.60" r="5.4" fill="#663790" fill-opacity="0.8"/>
<path d="M169.90 627.20V675.00" stroke="#663790" stroke-width="1.2" stroke-opacity="0.8" fill="none"/>
<circle cx="215.50" cy="634.50" r="5.4" fill="#663790" fill-opacity="0.8"/>
<circle cx="184.60" cy="660.10" r="5.4" fill="#663790" fill-opacity="0.8"/>
<circle cx="203.40" cy="669.00" r="5.4" fill="#663790" fill-opacity="0.8"/>
<circle cx="160.30" cy="669.30" r="5.4" fill="#663790" fill-opacity="0.8"/>
<circle cx="172.50" cy="677.70" r="5.4" fill="#663790" fill-opacity="0.8"/>
<circle cx="178.30" cy="674.20" r="5.4" fill="#663790" fill-opacity="0.8"/>
<circle cx="215.50" cy="630.30" r="5.4" fill="#3e704c" fill-opacity="0.67"/>
<path d="M206.00 630.30H222.80 M215.50 619.20V652.60" stroke="#3e704c" stroke-width="1.2" stroke-opacity="0.67" fill="none"/>
<circle cx="185.60" cy="645.60" r="5.4" fill="#3e704c" fill-opacity="0.67"/>
<path d="M174.10 645.60H193.80 M185.60 622.00V711.40" stroke="#3e704c" stroke-width="1.2" stroke-opacity="0.67" fill="none"/>
<circle cx="174.10" cy="658.00" r="5.4" fill="#3e704c" fill-opacity="0.67"/>
<path d="M162.70 658.00H185.00 M174.10 646.00V711.40" stroke="#3e704c" stroke-width="1.2" stroke-opacity="0.67" fill="none"/>
<circle cx="152.80" cy="688.60" r="5.4" fill="#3e704c" fill-opacity="0.67"/>
<path d="M126.00 688.60H172.00" stroke="#3e704c" stroke-width="1.2" stroke-opacity="0.67" fill="none"/>
<circle cx="172.30" cy="686.20" r="5.4" fill="#3e704c" fill-opacity="0.67"/>
<path d="M161.30 686.20H185.00" stroke="#3e704c" stroke-width="1.2" stroke-opacity="0.67" fill="none"/>
<circle cx="181.10" cy="684.10" r="5.4" fill="#3e704c" fill-opacity="0.67"/>
<path d="M181.10 670.00V711.40" stroke="#3e704c" stroke-width="1.2" stroke-opacity="0.67" fill="none"/>
<circle cx="192.40" cy="680.60" r="5.4" fill="#3e704c" fill-opacity="0.67"/>
<circle cx="179.70" cy="667.20" r="5.4" fill="#3e704c" fill-opacity="0.67"/>
<circle cx="186.80" cy="670.00" r="5.4" fill="#3e704c" fill-opacity="0.67"/>
<circle cx="197.50" cy="676.50" r="5.4" fill="#3e704c" fill-opacity="0.67"/>
<path d="M186.00 676.50H209.00" stroke="#3e704c" stroke-width="1.2" stroke-opacity="0.67" fill="none"/>
<circle cx="186.00" cy="673.00" r="5.4" fill="#3e704c" fill-opacity="0.67"/>
<path d="M176.00 673.00H197.00" stroke="#3e704c" stroke-width="1.2" stroke-opacity="0.67" fill="none"/>
<circle cx="190.50" cy="682.50" r="5.4" fill="#3e704c" fill-opacity="0.67"/>
<path d="M180.00 682.50H200.00" stroke="#3e704c" stroke-width="1.2" stroke-opacity="0.67" fill="none"/>
</g>
<path d="M57.50 711.40v3.0 M79.03 711.40v1.6 M91.63 711.40v1.6 M100.57 711.40v1.6 M107.50 711.40v1.6 M113.17 711.40v1.6 M117.96 711.40v1.6 M122.10 711.40v1.6 M125.76 711.40v1.6 M129.04 711.40v3.0 M150.57 711.40v1.6 M163.17 711.40v1.6 M172.11 711.40v1.6 M179.04 711.40v1.6 M184.70 711.40v1.6 M189.49 711.40v1.6 M193.64 711.40v1.6 M197.30 711.40v1.6 M200.57 711.40v3.0 M222.11 711.40v1.6 M234.70 711.40v1.6 M243.64 711.40v1.6 M250.57 711.40v1.6 M256.24 711.40v1.6 M261.03 711.40v1.6 M265.18 711.40v1.6 M268.84 711.40v1.6 M272.11 711.40v3.0 M293.64 711.40v1.6 M57.50 705.90h-1.6 M57.50 701.07h-1.6 M57.50 696.99h-1.6 M57.50 693.46h-1.6 M57.50 690.34h-1.6 M57.50 687.55h-3.0 M57.50 669.20h-1.6 M57.50 658.47h-1.6 M57.50 650.85h-1.6 M57.50 644.95h-1.6 M57.50 640.12h-1.6 M57.50 636.04h-1.6 M57.50 632.51h-1.6 M57.50 629.39h-1.6 M57.50 626.60h-3.0 M57.50 608.25h-1.6 M57.50 597.52h-1.6 M57.50 589.90h-1.6 M57.50 584.00h-1.6 M57.50 579.17h-1.6 M57.50 575.09h-1.6 M57.50 571.56h-1.6 M57.50 568.44h-1.6" stroke="#111" stroke-width="0.9" fill="none"/>
<rect x="57.5" y="567.6" width="237.50" height="143.80" fill="none" stroke="#555" stroke-width="0.9"/>
<text x="43.79" y="726.80" font-size="14.0">10</text>
<text x="59.36" y="722.20" font-size="10.4">−1</text>
<text x="118.36" y="726.80" font-size="14.0">10</text>
<text x="133.93" y="722.20" font-size="10.4">0</text>
<text x="189.89" y="726.80" font-size="14.0">10</text>
<text x="205.47" y="722.20" font-size="10.4">1</text>
<text x="261.43" y="726.80" font-size="14.0">10</text>
<text x="277.00" y="722.20" font-size="10.4">2</text>
<text x="30.63" y="692.45" font-size="14.0">10</text>
<text x="46.21" y="687.85" font-size="10.4">0</text>
<text x="30.63" y="631.50" font-size="14.0">10</text>
<text x="46.21" y="626.90" font-size="10.4">1</text>
<clipPath id="cp31"><rect x="318.7" y="567.6" width="237.60" height="143.80"/></clipPath><g clip-path="url(#cp31)">
<circle cx="439.10" cy="673.90" r="5.4" fill="#d11e37" fill-opacity="0.8"/>
<path d="M425.00 673.90H481.70" stroke="#d11e37" stroke-width="1.2" stroke-opacity="0.8" fill="none"/>
<circle cx="430.70" cy="681.30" r="5.4" fill="#d11e37" fill-opacity="0.8"/>
<path d="M401.30 681.30H445.80" stroke="#d11e37" stroke-width="1.2" stroke-opacity="0.8" fill="none"/>
<circle cx="412.00" cy="673.60" r="5.4" fill="#663790" fill-opacity="0.8"/>
<path d="M318.70 673.60H438.00" stroke="#663790" stroke-width="1.2" stroke-opacity="0.8" fill="none"/>
<circle cx="408.10" cy="683.20" r="5.4" fill="#663790" fill-opacity="0.8"/>
<path d="M321.50 683.20H420.00 M408.10 677.00V689.00" stroke="#663790" stroke-width="1.2" stroke-opacity="0.8" fill="none"/>
<circle cx="412.90" cy="696.20" r="5.4" fill="#3e704c" fill-opacity="0.67"/>
<path d="M390.00 696.20H426.10" stroke="#3e704c" stroke-width="1.2" stroke-opacity="0.67" fill="none"/>
<circle cx="440.00" cy="691.00" r="5.4" fill="#3e704c" fill-opacity="0.67"/>
<path d="M427.40 691.00H448.70" stroke="#3e704c" stroke-width="1.2" stroke-opacity="0.67" fill="none"/>
</g>
<path d="M318.70 711.40v3.0 M340.24 711.40v1.6 M352.85 711.40v1.6 M361.79 711.40v1.6 M368.72 711.40v1.6 M374.39 711.40v1.6 M379.18 711.40v1.6 M383.33 711.40v1.6 M386.99 711.40v1.6 M390.27 711.40v3.0 M411.81 711.40v1.6 M424.41 711.40v1.6 M433.35 711.40v1.6 M440.29 711.40v1.6 M445.96 711.40v1.6 M450.75 711.40v1.6 M454.90 711.40v1.6 M458.56 711.40v1.6 M461.83 711.40v3.0 M483.38 711.40v1.6 M495.98 711.40v1.6 M504.92 711.40v1.6 M511.86 711.40v1.6 M517.52 711.40v1.6 M522.31 711.40v1.6 M526.46 711.40v1.6 M530.12 711.40v1.6 M533.40 711.40v3.0 M554.94 711.40v1.6 M318.70 705.90h-1.6 M318.70 701.07h-1.6 M318.70 696.99h-1.6 M318.70 693.46h-1.6 M318.70 690.34h-1.6 M318.70 687.55h-3.0 M318.70 669.20h-1.6 M318.70 658.47h-1.6 M318.70 650.85h-1.6 M318.70 644.95h-1.6 M318.70 640.12h-1.6 M318.70 636.04h-1.6 M318.70 632.51h-1.6 M318.70 629.39h-1.6 M318.70 626.60h-3.0 M318.70 608.25h-1.6 M318.70 597.52h-1.6 M318.70 589.90h-1.6 M318.70 584.00h-1.6 M318.70 579.17h-1.6 M318.70 575.09h-1.6 M318.70 571.56h-1.6 M318.70 568.44h-1.6" stroke="#111" stroke-width="0.9" fill="none"/>
<rect x="318.7" y="567.6" width="237.60" height="143.80" fill="none" stroke="#555" stroke-width="0.9"/>
<text x="304.99" y="726.80" font-size="14.0">10</text>
<text x="320.56" y="722.20" font-size="10.4">−1</text>
<text x="379.59" y="726.80" font-size="14.0">10</text>
<text x="395.16" y="722.20" font-size="10.4">0</text>
<text x="451.15" y="726.80" font-size="14.0">10</text>
<text x="466.73" y="722.20" font-size="10.4">1</text>
<text x="522.72" y="726.80" font-size="14.0">10</text>
<text x="538.29" y="722.20" font-size="10.4">2</text>
<text x="176" y="24.7" text-anchor="middle" font-size="17.5">Constant B<tspan font-style="italic" font-size="12.5" dy="2.9">t</tspan></text>
<text x="437.5" y="24.7" text-anchor="middle" font-size="17.5">Constant q<tspan font-size="12.8" dy="2.6">95</tspan></text>
<text transform="translate(25.2,100.9) rotate(-90)" text-anchor="middle" font-size="16.2">&#955;<tspan font-style="italic" font-size="11.3" dy="3">n</tspan><tspan dy="-3">[cm]</tspan></text>
<text transform="translate(25.2,280.3) rotate(-90)" text-anchor="middle" font-size="16.2">&#955;<tspan font-style="italic" font-size="11.3" dy="3">n</tspan><tspan dy="-3">[cm]</tspan></text>
<text transform="translate(25.2,459.9) rotate(-90)" text-anchor="middle" font-size="16.2">&#955;<tspan font-style="italic" font-size="11.3" dy="3">n</tspan><tspan dy="-3">[cm]</tspan></text>
<text transform="translate(25.2,639.5) rotate(-90)" text-anchor="middle" font-size="16.2">&#955;<tspan font-style="italic" font-size="11.3" dy="3">n</tspan><tspan dy="-3">[cm]</tspan></text>
<text x="69.15" y="57.60" font-size="14.6" fill="#d11e37" stroke="#d11e37" stroke-width="0.12">I</text>
<text x="73.35" y="59.80" font-size="9.9" fill="#d11e37" font-style="italic" stroke="#d11e37" stroke-width="0.12">p</text>
<path d="M80.80 52.45H88.00M80.80 55.50H88.00" stroke="#d11e37" stroke-width="1.15" fill="none"/>
<text x="88.75" y="57.60" font-size="14.0" fill="#d11e37" stroke="#d11e37" stroke-width="0.12">0.6</text>
<text x="111.60" y="57.60" font-size="14.6" fill="#d11e37" stroke="#d11e37" stroke-width="0.12">MA</text>
<text x="69.15" y="76.10" font-size="14.6" fill="#663790" stroke="#663790" stroke-width="0.12">I</text>
<text x="73.35" y="78.30" font-size="9.9" fill="#663790" font-style="italic" stroke="#663790" stroke-width="0.12">p</text>
<path d="M80.80 70.95H88.00M80.80 74.00H88.00" stroke="#663790" stroke-width="1.15" fill="none"/>
<text x="88.75" y="76.10" font-size="14.0" fill="#663790" stroke="#663790" stroke-width="0.12">0.8</text>
<text x="111.60" y="76.10" font-size="14.6" fill="#663790" stroke="#663790" stroke-width="0.12">MA</text>
<text x="69.15" y="94.60" font-size="14.6" fill="#3e704c" stroke="#3e704c" stroke-width="0.12">I</text>
<text x="73.35" y="96.80" font-size="9.9" fill="#3e704c" font-style="italic" stroke="#3e704c" stroke-width="0.12">p</text>
<path d="M80.80 89.45H88.00M80.80 92.50H88.00" stroke="#3e704c" stroke-width="1.15" fill="none"/>
<text x="88.23" y="94.60" font-size="14.0" fill="#3e704c" stroke="#3e704c" stroke-width="0.12">1.0</text>
<text x="111.60" y="94.60" font-size="14.6" fill="#3e704c" stroke="#3e704c" stroke-width="0.12">MA</text>
<text x="330.35" y="57.60" font-size="14.6" fill="#d11e37" stroke="#d11e37" stroke-width="0.12">I</text>
<text x="334.55" y="59.80" font-size="9.9" fill="#d11e37" font-style="italic" stroke="#d11e37" stroke-width="0.12">p</text>
<path d="M342.00 52.45H349.20M342.00 55.50H349.20" stroke="#d11e37" stroke-width="1.15" fill="none"/>
<text x="349.95" y="57.60" font-size="14.0" fill="#d11e37" stroke="#d11e37" stroke-width="0.12">0.6</text>
<text x="372.80" y="57.60" font-size="14.6" fill="#d11e37" stroke="#d11e37" stroke-width="0.12">MA</text>
<text x="330.35" y="76.10" font-size="14.6" fill="#663790" stroke="#663790" stroke-width="0.12">I</text>
<text x="334.55" y="78.30" font-size="9.9" fill="#663790" font-style="italic" stroke="#663790" stroke-width="0.12">p</text>
<path d="M342.00 70.95H349.20M342.00 74.00H349.20" stroke="#663790" stroke-width="1.15" fill="none"/>
<text x="349.95" y="76.10" font-size="14.0" fill="#663790" stroke="#663790" stroke-width="0.12">0.8</text>
<text x="372.80" y="76.10" font-size="14.6" fill="#663790" stroke="#663790" stroke-width="0.12">MA</text>
<text x="330.35" y="94.60" font-size="14.6" fill="#3e704c" stroke="#3e704c" stroke-width="0.12">I</text>
<text x="334.55" y="96.80" font-size="9.9" fill="#3e704c" font-style="italic" stroke="#3e704c" stroke-width="0.12">p</text>
<path d="M342.00 89.45H349.20M342.00 92.50H349.20" stroke="#3e704c" stroke-width="1.15" fill="none"/>
<text x="349.43" y="94.60" font-size="14.0" fill="#3e704c" stroke="#3e704c" stroke-width="0.12">1.0</text>
<text x="372.80" y="94.60" font-size="14.6" fill="#3e704c" stroke="#3e704c" stroke-width="0.12">MA</text>
<text x="69.25" y="416.90" font-size="14.6" fill="#d11e37" stroke="#d11e37" stroke-width="0.12">I</text>
<text x="73.45" y="419.10" font-size="9.9" fill="#d11e37" font-style="italic" stroke="#d11e37" stroke-width="0.12">p</text>
<path d="M80.90 411.75H88.10M80.90 414.80H88.10" stroke="#d11e37" stroke-width="1.15" fill="none"/>
<text x="88.85" y="416.90" font-size="14.0" fill="#d11e37" stroke="#d11e37" stroke-width="0.12">0.6</text>
<text x="111.70" y="416.90" font-size="14.6" fill="#d11e37" stroke="#d11e37" stroke-width="0.12">MA</text>
<text x="69.25" y="435.55" font-size="14.6" fill="#663790" stroke="#663790" stroke-width="0.12">I</text>
<text x="73.45" y="437.75" font-size="9.9" fill="#663790" font-style="italic" stroke="#663790" stroke-width="0.12">p</text>
<path d="M80.90 430.40H88.10M80.90 433.45H88.10" stroke="#663790" stroke-width="1.15" fill="none"/>
<text x="88.85" y="435.55" font-size="14.0" fill="#663790" stroke="#663790" stroke-width="0.12">0.8</text>
<text x="111.70" y="435.55" font-size="14.6" fill="#663790" stroke="#663790" stroke-width="0.12">MA</text>
<text x="69.25" y="454.20" font-size="14.6" fill="#3e704c" stroke="#3e704c" stroke-width="0.12">I</text>
<text x="73.45" y="456.40" font-size="9.9" fill="#3e704c" font-style="italic" stroke="#3e704c" stroke-width="0.12">p</text>
<path d="M80.90 449.05H88.10M80.90 452.10H88.10" stroke="#3e704c" stroke-width="1.15" fill="none"/>
<text x="88.33" y="454.20" font-size="14.0" fill="#3e704c" stroke="#3e704c" stroke-width="0.12">1.0</text>
<text x="111.70" y="454.20" font-size="14.6" fill="#3e704c" stroke="#3e704c" stroke-width="0.12">MA</text>
<text x="330.35" y="416.90" font-size="14.6" fill="#d11e37" stroke="#d11e37" stroke-width="0.12">I</text>
<text x="334.55" y="419.10" font-size="9.9" fill="#d11e37" font-style="italic" stroke="#d11e37" stroke-width="0.12">p</text>
<path d="M342.00 411.75H349.20M342.00 414.80H349.20" stroke="#d11e37" stroke-width="1.15" fill="none"/>
<text x="349.95" y="416.90" font-size="14.0" fill="#d11e37" stroke="#d11e37" stroke-width="0.12">0.6</text>
<text x="372.80" y="416.90" font-size="14.6" fill="#d11e37" stroke="#d11e37" stroke-width="0.12">MA</text>
<text x="330.35" y="435.55" font-size="14.6" fill="#663790" stroke="#663790" stroke-width="0.12">I</text>
<text x="334.55" y="437.75" font-size="9.9" fill="#663790" font-style="italic" stroke="#663790" stroke-width="0.12">p</text>
<path d="M342.00 430.40H349.20M342.00 433.45H349.20" stroke="#663790" stroke-width="1.15" fill="none"/>
<text x="349.95" y="435.55" font-size="14.0" fill="#663790" stroke="#663790" stroke-width="0.12">0.8</text>
<text x="372.80" y="435.55" font-size="14.6" fill="#663790" stroke="#663790" stroke-width="0.12">MA</text>
<text x="330.35" y="454.20" font-size="14.6" fill="#3e704c" stroke="#3e704c" stroke-width="0.12">I</text>
<text x="334.55" y="456.40" font-size="9.9" fill="#3e704c" font-style="italic" stroke="#3e704c" stroke-width="0.12">p</text>
<path d="M342.00 449.05H349.20M342.00 452.10H349.20" stroke="#3e704c" stroke-width="1.15" fill="none"/>
<text x="349.43" y="454.20" font-size="14.0" fill="#3e704c" stroke="#3e704c" stroke-width="0.12">1.0</text>
<text x="372.80" y="454.20" font-size="14.6" fill="#3e704c" stroke="#3e704c" stroke-width="0.12">MA</text>
<text x="68.79" y="237.50" font-size="14.6" fill="#d11e37" stroke="#d11e37" stroke-width="0.12">100</text>
<path d="M106.30 229.60L98.40 231.80L106.30 234.00M97.80 236.30H106.80" stroke="#d11e37" stroke-width="1.15" fill="none"/>
<text x="110.95" y="237.50" font-size="14.6" fill="#d11e37" stroke="#d11e37" stroke-width="0.12">I</text>
<text x="115.05" y="239.70" font-size="9.9" fill="#d11e37" font-style="italic" stroke="#d11e37" stroke-width="0.12">p</text>
<path d="M134.90 230.30L127.30 233.60L134.90 236.90" stroke="#d11e37" stroke-width="1.15" fill="none"/>
<text x="138.27" y="237.50" font-size="14.6" fill="#d11e37" stroke="#d11e37" stroke-width="0.12">200</text>
<text x="166.72" y="237.50" font-size="14.6" fill="#d11e37" stroke="#d11e37" stroke-width="0.12">kA</text>
<text x="69.17" y="255.95" font-size="14.6" fill="#663790" stroke="#663790" stroke-width="0.12">200</text>
<path d="M106.30 248.05L98.40 250.25L106.30 252.45M97.80 254.75H106.80" stroke="#663790" stroke-width="1.15" fill="none"/>
<text x="110.95" y="255.95" font-size="14.6" fill="#663790" stroke="#663790" stroke-width="0.12">I</text>
<text x="115.05" y="258.15" font-size="9.9" fill="#663790" font-style="italic" stroke="#663790" stroke-width="0.12">p</text>
<path d="M134.90 248.75L127.30 252.05L134.90 255.35" stroke="#663790" stroke-width="1.15" fill="none"/>
<text x="138.44" y="255.95" font-size="14.6" fill="#663790" stroke="#663790" stroke-width="0.12">300</text>
<text x="166.72" y="255.95" font-size="14.6" fill="#663790" stroke="#663790" stroke-width="0.12">kA</text>
<text x="69.34" y="274.40" font-size="14.6" fill="#3e704c" stroke="#3e704c" stroke-width="0.12">300</text>
<path d="M106.30 266.50L98.40 268.70L106.30 270.90M97.80 273.20H106.80" stroke="#3e704c" stroke-width="1.15" fill="none"/>
<text x="110.95" y="274.40" font-size="14.6" fill="#3e704c" stroke="#3e704c" stroke-width="0.12">I</text>
<text x="115.05" y="276.60" font-size="9.9" fill="#3e704c" font-style="italic" stroke="#3e704c" stroke-width="0.12">p</text>
<path d="M134.90 267.20L127.30 270.50L134.90 273.80" stroke="#3e704c" stroke-width="1.15" fill="none"/>
<text x="138.66" y="274.40" font-size="14.6" fill="#3e704c" stroke="#3e704c" stroke-width="0.12">400</text>
<text x="166.72" y="274.40" font-size="14.6" fill="#3e704c" stroke="#3e704c" stroke-width="0.12">kA</text>
<text x="329.99" y="237.50" font-size="14.6" fill="#d11e37" stroke="#d11e37" stroke-width="0.12">100</text>
<path d="M367.50 229.60L359.60 231.80L367.50 234.00M359.00 236.30H368.00" stroke="#d11e37" stroke-width="1.15" fill="none"/>
<text x="372.15" y="237.50" font-size="14.6" fill="#d11e37" stroke="#d11e37" stroke-width="0.12">I</text>
<text x="376.25" y="239.70" font-size="9.9" fill="#d11e37" font-style="italic" stroke="#d11e37" stroke-width="0.12">p</text>
<path d="M396.10 230.30L388.50 233.60L396.10 236.90" stroke="#d11e37" stroke-width="1.15" fill="none"/>
<text x="399.47" y="237.50" font-size="14.6" fill="#d11e37" stroke="#d11e37" stroke-width="0.12">200</text>
<text x="427.92" y="237.50" font-size="14.6" fill="#d11e37" stroke="#d11e37" stroke-width="0.12">kA</text>
<text x="330.37" y="255.95" font-size="14.6" fill="#663790" stroke="#663790" stroke-width="0.12">200</text>
<path d="M367.50 248.05L359.60 250.25L367.50 252.45M359.00 254.75H368.00" stroke="#663790" stroke-width="1.15" fill="none"/>
<text x="372.15" y="255.95" font-size="14.6" fill="#663790" stroke="#663790" stroke-width="0.12">I</text>
<text x="376.25" y="258.15" font-size="9.9" fill="#663790" font-style="italic" stroke="#663790" stroke-width="0.12">p</text>
<path d="M396.10 248.75L388.50 252.05L396.10 255.35" stroke="#663790" stroke-width="1.15" fill="none"/>
<text x="399.64" y="255.95" font-size="14.6" fill="#663790" stroke="#663790" stroke-width="0.12">300</text>
<text x="427.92" y="255.95" font-size="14.6" fill="#663790" stroke="#663790" stroke-width="0.12">kA</text>
<text x="330.54" y="274.40" font-size="14.6" fill="#3e704c" stroke="#3e704c" stroke-width="0.12">300</text>
<path d="M367.50 266.50L359.60 268.70L367.50 270.90M359.00 273.20H368.00" stroke="#3e704c" stroke-width="1.15" fill="none"/>
<text x="372.15" y="274.40" font-size="14.6" fill="#3e704c" stroke="#3e704c" stroke-width="0.12">I</text>
<text x="376.25" y="276.60" font-size="9.9" fill="#3e704c" font-style="italic" stroke="#3e704c" stroke-width="0.12">p</text>
<path d="M396.10 267.20L388.50 270.50L396.10 273.80" stroke="#3e704c" stroke-width="1.15" fill="none"/>
<text x="399.86" y="274.40" font-size="14.6" fill="#3e704c" stroke="#3e704c" stroke-width="0.12">400</text>
<text x="427.92" y="274.40" font-size="14.6" fill="#3e704c" stroke="#3e704c" stroke-width="0.12">kA</text>
<text x="68.79" y="600.80" font-size="14.6" fill="#d11e37" stroke="#d11e37" stroke-width="0.12">100</text>
<path d="M106.30 592.90L98.40 595.10L106.30 597.30M97.80 599.60H106.80" stroke="#d11e37" stroke-width="1.15" fill="none"/>
<text x="110.95" y="600.80" font-size="14.6" fill="#d11e37" stroke="#d11e37" stroke-width="0.12">I</text>
<text x="115.05" y="603.00" font-size="9.9" fill="#d11e37" font-style="italic" stroke="#d11e37" stroke-width="0.12">p</text>
<path d="M134.90 593.60L127.30 596.90L134.90 600.20" stroke="#d11e37" stroke-width="1.15" fill="none"/>
<text x="138.27" y="600.80" font-size="14.6" fill="#d11e37" stroke="#d11e37" stroke-width="0.12">200</text>
<text x="166.72" y="600.80" font-size="14.6" fill="#d11e37" stroke="#d11e37" stroke-width="0.12">kA</text>
<text x="69.17" y="619.25" font-size="14.6" fill="#663790" stroke="#663790" stroke-width="0.12">200</text>
<path d="M106.30 611.35L98.40 613.55L106.30 615.75M97.80 618.05H106.80" stroke="#663790" stroke-width="1.15" fill="none"/>
<text x="110.95" y="619.25" font-size="14.6" fill="#663790" stroke="#663790" stroke-width="0.12">I</text>
<text x="115.05" y="621.45" font-size="9.9" fill="#663790" font-style="italic" stroke="#663790" stroke-width="0.12">p</text>
<path d="M134.90 612.05L127.30 615.35L134.90 618.65" stroke="#663790" stroke-width="1.15" fill="none"/>
<text x="138.44" y="619.25" font-size="14.6" fill="#663790" stroke="#663790" stroke-width="0.12">300</text>
<text x="166.72" y="619.25" font-size="14.6" fill="#663790" stroke="#663790" stroke-width="0.12">kA</text>
<text x="69.34" y="637.70" font-size="14.6" fill="#3e704c" stroke="#3e704c" stroke-width="0.12">300</text>
<path d="M106.30 629.80L98.40 632.00L106.30 634.20M97.80 636.50H106.80" stroke="#3e704c" stroke-width="1.15" fill="none"/>
<text x="110.95" y="637.70" font-size="14.6" fill="#3e704c" stroke="#3e704c" stroke-width="0.12">I</text>
<text x="115.05" y="639.90" font-size="9.9" fill="#3e704c" font-style="italic" stroke="#3e704c" stroke-width="0.12">p</text>
<path d="M134.90 630.50L127.30 633.80L134.90 637.10" stroke="#3e704c" stroke-width="1.15" fill="none"/>
<text x="138.66" y="637.70" font-size="14.6" fill="#3e704c" stroke="#3e704c" stroke-width="0.12">400</text>
<text x="166.72" y="637.70" font-size="14.6" fill="#3e704c" stroke="#3e704c" stroke-width="0.12">kA</text>
<text x="330.19" y="600.80" font-size="14.6" fill="#d11e37" stroke="#d11e37" stroke-width="0.12">100</text>
<path d="M367.70 592.90L359.80 595.10L367.70 597.30M359.20 599.60H368.20" stroke="#d11e37" stroke-width="1.15" fill="none"/>
<text x="372.35" y="600.80" font-size="14.6" fill="#d11e37" stroke="#d11e37" stroke-width="0.12">I</text>
<text x="376.45" y="603.00" font-size="9.9" fill="#d11e37" font-style="italic" stroke="#d11e37" stroke-width="0.12">p</text>
<path d="M396.30 593.60L388.70 596.90L396.30 600.20" stroke="#d11e37" stroke-width="1.15" fill="none"/>
<text x="399.67" y="600.80" font-size="14.6" fill="#d11e37" stroke="#d11e37" stroke-width="0.12">200</text>
<text x="428.12" y="600.80" font-size="14.6" fill="#d11e37" stroke="#d11e37" stroke-width="0.12">kA</text>
<text x="330.57" y="619.25" font-size="14.6" fill="#663790" stroke="#663790" stroke-width="0.12">200</text>
<path d="M367.70 611.35L359.80 613.55L367.70 615.75M359.20 618.05H368.20" stroke="#663790" stroke-width="1.15" fill="none"/>
<text x="372.35" y="619.25" font-size="14.6" fill="#663790" stroke="#663790" stroke-width="0.12">I</text>
<text x="376.45" y="621.45" font-size="9.9" fill="#663790" font-style="italic" stroke="#663790" stroke-width="0.12">p</text>
<path d="M396.30 612.05L388.70 615.35L396.30 618.65" stroke="#663790" stroke-width="1.15" fill="none"/>
<text x="399.84" y="619.25" font-size="14.6" fill="#663790" stroke="#663790" stroke-width="0.12">300</text>
<text x="428.12" y="619.25" font-size="14.6" fill="#663790" stroke="#663790" stroke-width="0.12">kA</text>
<text x="330.74" y="637.70" font-size="14.6" fill="#3e704c" stroke="#3e704c" stroke-width="0.12">300</text>
<path d="M367.70 629.80L359.80 632.00L367.70 634.20M359.20 636.50H368.20" stroke="#3e704c" stroke-width="1.15" fill="none"/>
<text x="372.35" y="637.70" font-size="14.6" fill="#3e704c" stroke="#3e704c" stroke-width="0.12">I</text>
<text x="376.45" y="639.90" font-size="9.9" fill="#3e704c" font-style="italic" stroke="#3e704c" stroke-width="0.12">p</text>
<path d="M396.30 630.50L388.70 633.80L396.30 637.10" stroke="#3e704c" stroke-width="1.15" fill="none"/>
<text x="400.06" y="637.70" font-size="14.6" fill="#3e704c" stroke="#3e704c" stroke-width="0.12">400</text>
<text x="428.12" y="637.70" font-size="14.6" fill="#3e704c" stroke="#3e704c" stroke-width="0.12">kA</text>
<text x="271.39" y="43.70" font-size="14.4" fill="#000" stroke-width="0">(a)</text>
<text x="259.65" y="60.70" font-size="14.6" fill="#000" stroke-width="0">AUG</text>
<text x="532.99" y="43.70" font-size="14.4" fill="#000" stroke-width="0">(b)</text>
<text x="520.55" y="60.70" font-size="14.6" fill="#000" stroke-width="0">AUG</text>
<text x="271.10" y="222.70" font-size="14.4" fill="#000" stroke-width="0">(c)</text>
<text x="258.56" y="239.70" font-size="14.6" fill="#000" stroke-width="0">TCV</text>
<text x="532.29" y="222.70" font-size="14.4" fill="#000" stroke-width="0">(d)</text>
<text x="519.86" y="239.70" font-size="14.6" fill="#000" stroke="#000" stroke-width="0.45">TCV</text>
<text x="271.09" y="402.60" font-size="14.4" fill="#000" stroke-width="0">(e)</text>
<text x="258.95" y="419.60" font-size="14.6" fill="#000" stroke-width="0">AUG</text>
<text x="532.80" y="402.60" font-size="14.4" fill="#000" stroke-width="0">(f)</text>
<text x="520.55" y="419.60" font-size="14.6" fill="#000" stroke-width="0">AUG</text>
<text x="271.19" y="582.00" font-size="14.4" fill="#000" stroke-width="0">(g)</text>
<text x="258.76" y="599.00" font-size="14.6" fill="#000" stroke-width="0">TCV</text>
<text x="532.29" y="582.00" font-size="14.4" fill="#000" stroke-width="0">(h)</text>
<text transform="translate(163.59,203.71) scale(0.841,1)" font-size="15.26" fill="#000">Λ</text>
<text transform="translate(173.54,205.59) scale(1.012,1)" font-size="10.48" fill="#000" font-style="italic">div</text>
<text transform="translate(163.59,383.51) scale(0.841,1)" font-size="15.26" fill="#000">Λ</text>
<text transform="translate(173.54,385.39) scale(1.012,1)" font-size="10.48" fill="#000" font-style="italic">div</text>
<text transform="translate(155.06,562.17) scale(1.139,1)" font-size="13.21" fill="#000" font-style="italic">δ</text>
<text transform="translate(164.21,564.90) scale(0.926,1)" font-size="10.35" fill="#000" font-style="italic">b</text>
<text transform="translate(176.63,563.06) scale(1.395,1)" font-size="11.27" fill="#000" font-style="italic">ρ</text>
<text transform="translate(186.33,564.90) scale(0.848,1)" font-size="9.88" fill="#000" font-style="italic">s</text>
<path d="M174.65 552.30H172.15V564.80H174.65M192.65 552.30H195.05V564.80H192.65" stroke="#000" stroke-width="1.05" fill="none"/>
<text transform="translate(155.06,741.97) scale(1.139,1)" font-size="13.21" fill="#000" font-style="italic">δ</text>
<text transform="translate(164.21,744.70) scale(0.926,1)" font-size="10.35" fill="#000" font-style="italic">b</text>
<text transform="translate(176.63,742.86) scale(1.395,1)" font-size="11.27" fill="#000" font-style="italic">ρ</text>
<text transform="translate(186.33,744.70) scale(0.848,1)" font-size="9.88" fill="#000" font-style="italic">s</text>
<path d="M174.65 732.10H172.15V744.60H174.65M192.65 732.10H195.05V744.60H192.65" stroke="#000" stroke-width="1.05" fill="none"/>
<text transform="translate(424.84,203.71) scale(0.841,1)" font-size="15.26" fill="#000">Λ</text>
<text transform="translate(434.79,205.59) scale(1.012,1)" font-size="10.48" fill="#000" font-style="italic">div</text>
<text transform="translate(424.84,383.51) scale(0.841,1)" font-size="15.26" fill="#000">Λ</text>
<text transform="translate(434.79,385.39) scale(1.012,1)" font-size="10.48" fill="#000" font-style="italic">div</text>
<text transform="translate(416.31,562.17) scale(1.139,1)" font-size="13.21" fill="#000" font-style="italic">δ</text>
<text transform="translate(425.46,564.90) scale(0.926,1)" font-size="10.35" fill="#000" font-style="italic">b</text>
<text transform="translate(437.88,563.06) scale(1.395,1)" font-size="11.27" fill="#000" font-style="italic">ρ</text>
<text transform="translate(447.58,564.90) scale(0.848,1)" font-size="9.88" fill="#000" font-style="italic">s</text>
<path d="M435.90 552.30H433.40V564.80H435.90M453.90 552.30H456.30V564.80H453.90" stroke="#000" stroke-width="1.05" fill="none"/>
<text transform="translate(416.31,741.97) scale(1.139,1)" font-size="13.21" fill="#000" font-style="italic">δ</text>
<text transform="translate(425.46,744.70) scale(0.926,1)" font-size="10.35" fill="#000" font-style="italic">b</text>
<text transform="translate(437.88,742.86) scale(1.395,1)" font-size="11.27" fill="#000" font-style="italic">ρ</text>
<text transform="translate(447.58,744.70) scale(0.848,1)" font-size="9.88" fill="#000" font-style="italic">s</text>
<path d="M435.90 732.10H433.40V744.60H435.90M453.90 732.10H456.30V744.60H453.90" stroke="#000" stroke-width="1.05" fill="none"/>
</svg></body></html>
